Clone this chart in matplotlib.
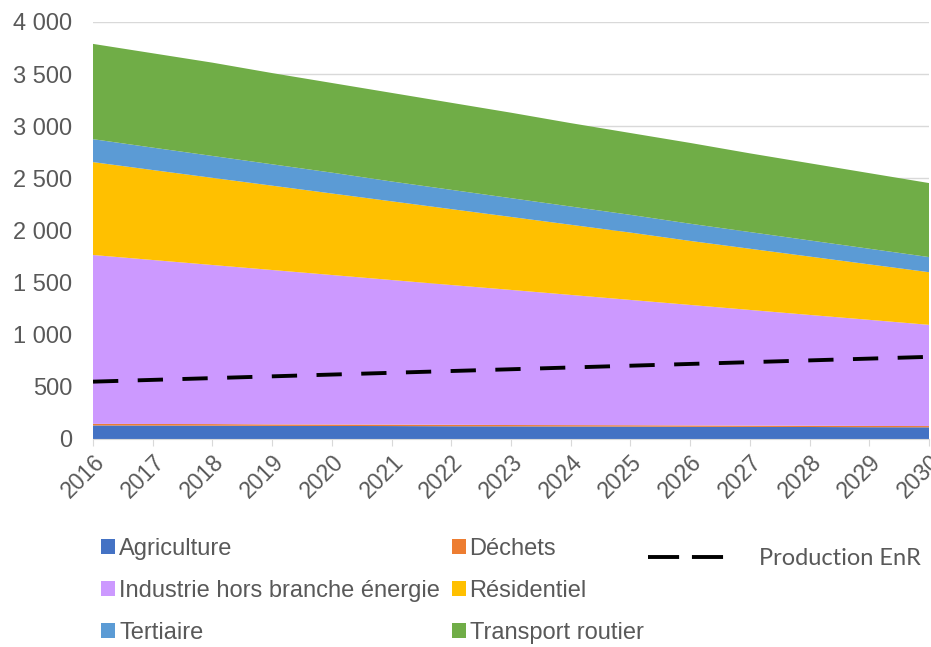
import matplotlib
matplotlib.use("Agg")
import matplotlib.pyplot as plt
from matplotlib.patches import Patch
from matplotlib.lines import Line2D

plt.rcParams['font.family'] = ['Liberation Sans', 'DejaVu Sans']

## Data (GWh per sector)
years = list(range(2016, 2031))
agriculture = [130, 129, 128, 126, 125, 124, 122, 121, 120, 119, 117, 116, 115, 113, 112]
dechets = [15, 15, 15, 14, 14, 14, 14, 13, 13, 13, 13, 12, 12, 12, 12]
industrie = [1620, 1573, 1526, 1481, 1434, 1387, 1341, 1296, 1249, 1202, 1156, 1110, 1063, 1018, 971]
residentiel = [891, 863, 836, 809, 782, 755, 728, 700, 673, 646, 614, 587, 560, 532, 505]
tertiaire = [220, 215, 210, 205, 200, 190, 185, 180, 175, 170, 165, 160, 155, 150, 145]
transport = [914, 905, 895, 875, 860, 850, 835, 820, 800, 785, 775, 755, 740, 725, 710]
production_enr = [550, 567, 584, 601, 618, 635, 652, 669, 686, 703, 720, 737, 754, 771, 788]

labels = ['Agriculture', 'Déchets', 'Industrie hors branche énergie',
          'Résidentiel', 'Tertiaire', 'Transport routier']
colors = ['#4472c4', '#ed7d31', '#cc99ff', '#ffc000', '#5b9bd5', '#70ad47']

fig = plt.figure(figsize=(9.31, 6.47), dpi=100)
ax = fig.add_axes([0.0999, 0.3215, 0.898, 0.6445])

ax.stackplot(years, agriculture, dechets, industrie, residentiel, tertiaire, transport,
             colors=colors, linewidth=0, zorder=2)
ax.plot(years, production_enr, color='black', lw=2.8, dashes=(6.5, 5), zorder=3)

ax.set_xlim(2016, 2030)
ax.set_ylim(0, 4000)
ax.set_yticks(range(0, 4001, 500))
ax.set_yticklabels([f"{v:,}".replace(',', ' ') for v in range(0, 4001, 500)])
ax.set_xticks(years)
ax.set_xticklabels([str(y) for y in years], rotation=45, ha='right', rotation_mode='anchor')
ax.grid(axis='y', color='#d9d9d9', lw=1, zorder=0)
ax.set_axisbelow(True)
for s in ['top', 'right', 'left']:
    ax.spines[s].set_visible(False)
ax.spines['bottom'].set_color('#d9d9d9')
ax.tick_params(axis='y', length=0, labelsize=17, labelcolor='#595959', pad=15)
ax.tick_params(axis='x', length=5, color='#d9d9d9', labelsize=16.5, labelcolor='#595959', pad=3)

## Legend, column-wise order so rows read Agriculture / Déchets etc.
order = [0, 2, 4, 1, 3, 5]
handles = [Patch(facecolor=colors[i], edgecolor='none') for i in order]
leg = fig.legend(handles, [labels[i] for i in order], ncol=2, loc='upper left',
                 bbox_to_anchor=(0.109, 1 - 538 / 647), frameon=False, fontsize=17,
                 handlelength=0.58, handleheight=0.58, handletextpad=0.17,
                 columnspacing=0.5, labelspacing=0.84, borderpad=0, borderaxespad=0,
                 labelcolor='#595959')

enr = fig.legend([Line2D([], [], color='black', lw=2.8, dashes=(8, 3.3))], ['Production EnR'],
                 loc='upper left', bbox_to_anchor=(0.696, 1 - 548 / 647), frameon=False,
                 prop={'family': 'Lato', 'size': 17}, handlelength=3.2, handletextpad=1.5,
                 borderpad=0, borderaxespad=0, labelcolor='#595959')

fig.savefig('out.png', dpi=100)
